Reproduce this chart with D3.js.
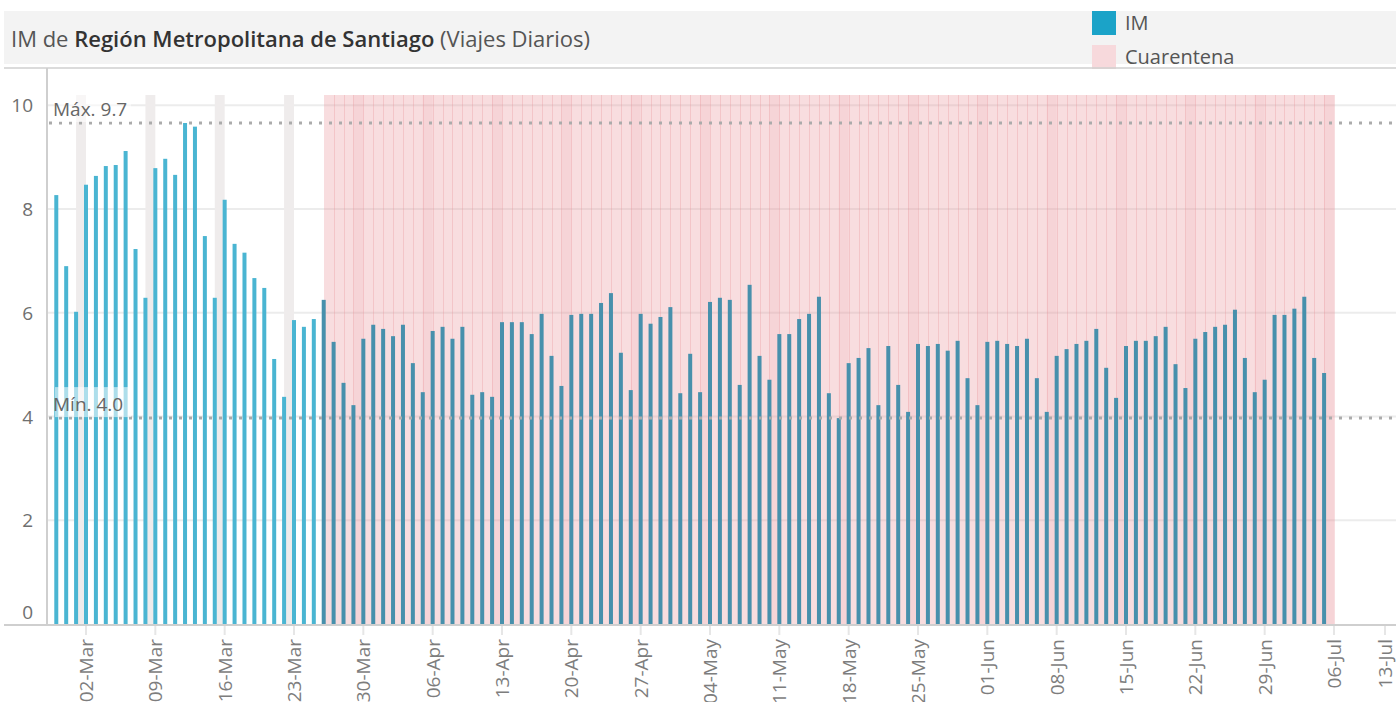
<!DOCTYPE html>
<html>
<head>
<meta charset="utf-8">
<script src="https://cdn.jsdelivr.net/npm/d3@7"></script>
<style>
  body { margin: 0; background: #fff; }
  svg { display: block; font-family: "Open Sans", sans-serif; }
</style>
</head>
<body>
<svg id="chart" width="1396" height="702"></svg>
<script>
// daily IM values, one per day starting at START_DATE
const START_DATE = '2020-02-28';
const IM_VALUES = [
  8.27, 6.90, 6.02, 8.47, 8.64, 8.83, 8.85, 9.12, 7.23, 6.29, 8.79, 8.97, 8.66, 9.66,
  9.59, 7.48, 6.29, 8.18, 7.33, 7.16, 6.67, 6.48, 5.11, 4.38, 5.86, 5.73, 5.88,
  // from 26-Mar
  6.25, 5.44, 4.65, 4.22, 5.50, 5.77,
  // April
  5.69, 5.55, 5.77, 5.03, 4.47, 5.65, 5.73, 5.50, 5.73, 4.42, 4.47, 4.38, 5.82, 5.82,
  5.82, 5.59, 5.98, 5.17, 4.59, 5.96, 5.98, 5.98, 6.19, 6.38, 5.23, 4.51, 5.98, 5.79,
  5.92, 6.11,
  // May
  4.45, 5.21, 4.47, 6.21, 6.29, 6.25, 4.61, 6.54, 5.17, 4.71, 5.59, 5.59, 5.88, 5.98,
  6.31, 4.45, 3.97, 5.03, 5.13, 5.32, 4.22, 5.36, 4.61, 4.09, 5.40, 5.36, 5.40, 5.27,
  5.46, 4.74, 4.22,
  // June
  5.44, 5.46, 5.40, 5.36, 5.50, 4.74, 4.09, 5.17, 5.30, 5.40, 5.46, 5.69, 4.94, 4.36,
  5.36, 5.46, 5.46, 5.55, 5.73, 5.01, 4.55, 5.50, 5.63, 5.73, 5.77, 6.06, 5.13, 4.47,
  4.71, 5.96,
  // July
  5.96, 6.08, 6.31, 5.13, 4.84
];
const QUARANTINE_START = '2020-03-26';
const QUARANTINE_END = '2020-07-05';
const Y_TICKS = [0, 2, 4, 6, 8, 10];
const X_TICK_START = '2020-03-02';
const X_TICK_END = '2020-07-13';
const LEGEND_LABELS = ['IM', 'Cuarentena'];
const TITLE_PARTS = [
  { text: 'IM de ', bold: false },
  { text: 'Región Metropolitana de Santiago', bold: true },
  { text: ' (Viajes Diarios)', bold: false },
];

const W = 1396;
const PLOT = { left: 47, right: W, top: 95, bottom: 624 };
const COLORS = {
  bar: '#4ab5d2',
  barQuarantine: '#4790ac',
  legendIM: '#1ba3c8',
  pink: '#e88d96',
  sunday: '#efecec',
  grid: '#ececec',
  axis: '#cfcfcf',
  ref: '#ababab',
  text: '#6f6f6f',
};

const parse = d3.utcParse('%Y-%m-%d');
const start = parse(START_DATE);
const days = d3.utcDay.range(start, d3.utcDay.offset(start, IM_VALUES.length));
const data = days.map((date, i) => ({ date, value: IM_VALUES[i] }));
const qStart = parse(QUARANTINE_START);
const qEnd = parse(QUARANTINE_END);
const inQuarantine = (d) => d >= qStart && d <= qEnd;

const svg = d3.select('#chart');

const x = d3.scaleUtc()
  .domain([parse('2020-03-02'), parse('2020-07-06')])
  .range([86, 1334]);
const y = d3.scaleLinear().domain([0, 10.2]).range([PLOT.bottom, PLOT.top]);
const dayW = x(d3.utcDay.offset(start, 1)) - x(start);

// title band
svg.append('rect').attr('x', 4).attr('y', 11).attr('width', W - 4).attr('height', 53)
  .attr('fill', '#f3f3f3');
const title = svg.append('text').attr('x', 11).attr('y', 47)
  .attr('font-size', 22).attr('fill', '#555');
TITLE_PARTS.forEach((p) => {
  title.append('tspan').text(p.text)
    .attr('font-weight', p.bold ? 600 : 400)
    .attr('fill', p.bold ? '#333' : '#555');
});

// legend
const legend = svg.append('g').attr('transform', 'translate(1092,0)');
legend.append('rect').attr('x', 0).attr('y', 11).attr('width', 24).attr('height', 24)
  .attr('fill', COLORS.legendIM);
legend.append('rect').attr('x', 0).attr('y', 45).attr('width', 24).attr('height', 24)
  .attr('fill', '#f7d9dc');
legend.selectAll('text.leg').data(LEGEND_LABELS).join('text')
  .attr('class', 'leg')
  .attr('x', 33).attr('y', (d, i) => 30 + i * 34)
  .attr('font-size', 20).attr('fill', '#555')
  .text((d) => d);

// gridlines
svg.append('g').selectAll('line').data(Y_TICKS.filter((t) => t > 0)).join('line')
  .attr('x1', PLOT.left).attr('x2', W)
  .attr('y1', (d) => y(d)).attr('y2', (d) => y(d))
  .attr('stroke', COLORS.grid).attr('stroke-width', 2);

// sunday bands before the quarantine (grey)
const sundays = d3.utcSunday.range(start, d3.utcDay.offset(days[days.length - 1], 1));
svg.append('g').selectAll('rect').data(sundays.filter((d) => !inQuarantine(d))).join('rect')
  .attr('x', (d) => x(d)).attr('width', dayW)
  .attr('y', PLOT.top).attr('height', PLOT.bottom - PLOT.top)
  .attr('fill', COLORS.sunday);

// quarantine days (slightly overlapping marks)
const qDays = d3.utcDay.range(qStart, d3.utcDay.offset(qEnd, 1));
svg.append('g').attr('shape-rendering', 'crispEdges')
  .selectAll('rect').data(qDays).join('rect')
  .attr('x', (d) => x(d)).attr('width', dayW + 1)
  .attr('y', PLOT.top).attr('height', PLOT.bottom - PLOT.top)
  .attr('fill', COLORS.pink).attr('fill-opacity', 0.3);

// sunday bands inside the quarantine (slightly darker pink)
svg.append('g').selectAll('rect').data(sundays.filter((d) => inQuarantine(d))).join('rect')
  .attr('x', (d) => x(d)).attr('width', dayW)
  .attr('y', PLOT.top).attr('height', PLOT.bottom - PLOT.top)
  .attr('fill', COLORS.pink).attr('fill-opacity', 0.1);

// bars
svg.append('g').selectAll('rect').data(data).join('rect')
  .attr('x', (d) => x(d.date) - 2).attr('width', 4)
  .attr('y', (d) => y(d.value)).attr('height', (d) => y(0) - y(d.value))
  .attr('fill', (d) => (inQuarantine(d.date) ? COLORS.barQuarantine : COLORS.bar));

// axes lines
svg.append('line').attr('x1', 4).attr('x2', W).attr('y1', 68).attr('y2', 68)
  .attr('stroke', COLORS.axis).attr('stroke-width', 1.5);
svg.append('line').attr('x1', PLOT.left).attr('x2', PLOT.left).attr('y1', 68).attr('y2', PLOT.bottom)
  .attr('stroke', COLORS.axis).attr('stroke-width', 2);
svg.append('line').attr('x1', 4).attr('x2', W).attr('y1', PLOT.bottom + 1).attr('y2', PLOT.bottom + 1)
  .attr('stroke', COLORS.axis).attr('stroke-width', 2);

// y tick labels
svg.append('g').selectAll('text').data(Y_TICKS).join('text')
  .attr('x', 33).attr('y', (d) => (d === 0 ? y(d) - 12 : y(d)))
  .attr('text-anchor', 'end').attr('dominant-baseline', 'central')
  .attr('font-size', 19).attr('fill', COLORS.text)
  .text((d) => d);

// x ticks
const xTicks = d3.utcMonday.range(parse(X_TICK_START), d3.utcDay.offset(parse(X_TICK_END), 1));
const fmt = d3.utcFormat('%d-%b');
const xt = svg.append('g').selectAll('g').data(xTicks).join('g')
  .attr('transform', (d) => `translate(${Math.min(x(d), 1385)},0)`);
xt.append('line').attr('y1', PLOT.bottom + 2).attr('y2', PLOT.bottom + 11)
  .attr('stroke', '#e6e6e6').attr('stroke-width', 2);
xt.append('text')
  .attr('transform', 'translate(0,639) rotate(-90)')
  .attr('text-anchor', 'end').attr('dominant-baseline', 'central')
  .attr('font-size', 19).attr('fill', '#7d7d7d')
  .text((d) => fmt(d));

// reference lines (max / min)
const maxV = d3.max(IM_VALUES);
const minV = d3.min(IM_VALUES);
const refs = [
  { label: `Máx. ${maxV.toFixed(1)}`, value: maxV },
  { label: `Mín. ${minV.toFixed(1)}`, value: minV },
];
const rg = svg.append('g');
rg.selectAll('line').data(refs).join('line')
  .attr('x1', PLOT.left + 2).attr('x2', W)
  .attr('y1', (d) => y(d.value)).attr('y2', (d) => y(d.value))
  .attr('stroke', COLORS.ref).attr('stroke-width', 3).attr('stroke-dasharray', '3,7');
rg.selectAll('rect').data(refs).join('rect')
  .attr('x', 55).attr('width', 76)
  .attr('y', (d) => y(d.value) - 31).attr('height', 30)
  .attr('fill', '#fff').attr('fill-opacity', 0.55);
rg.selectAll('text').data(refs).join('text')
  .attr('x', 53).attr('y', (d) => y(d.value) - 7)
  .attr('font-size', 19).attr('fill', '#666')
  .text((d) => d.label);
</script>
</body>
</html>
